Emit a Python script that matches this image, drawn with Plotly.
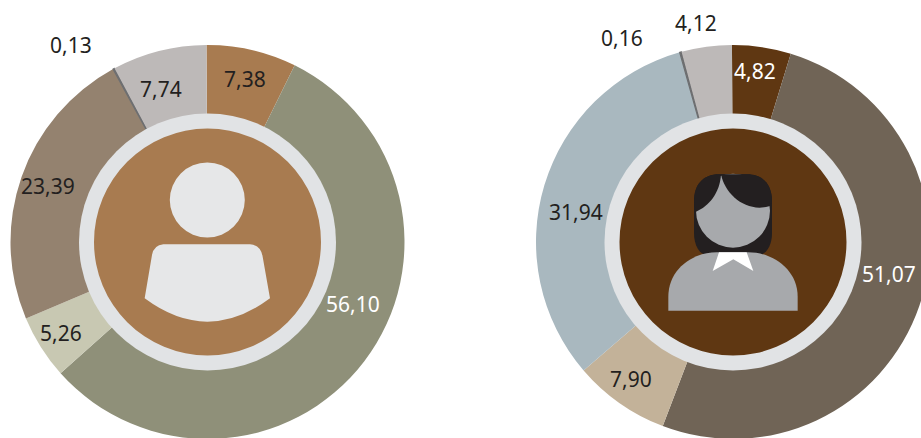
import plotly.graph_objects as go

# --- data ---
male_labels = ["A", "B", "C", "D", "E", "F"]
male_values = [7.38, 56.10, 5.26, 23.39, 0.13, 7.74]
male_text = ["7,38", "56,10", "5,26", "23,39", "0,13", "7,74"]
male_colors = ["#A87B50", "#8F9079", "#C8C8B2", "#94826F", "#6D6E70", "#BDB9B8"]

female_labels = ["A", "B", "C", "D", "E", "F"]
female_values = [4.82, 51.07, 7.90, 31.94, 0.16, 4.12]
female_text = ["4,82", "51,07", "7,90", "31,94", "0,16", "4,12"]
female_colors = ["#5F3712", "#706456", "#C3B299", "#A9B8BF", "#6D6E70", "#BDB9B8"]

# --- layout constants (pixels) ---
W, H = 940, 440
R = 197
CX1, CX2, CY = 207.5, 733, 242
male_pos = [(245, 79), (353, 304), (61, 333), (48, 186), (71, 45), (161, 89)]
male_tc = ["#231F20", "#FFFFFF", "#231F20", "#231F20", "#231F20", "#231F20"]
female_pos = [(755, 71), (889, 274), (631, 379), (576, 212), (622, 38), (696, 23)]
female_tc = ["#FFFFFF", "#FFFFFF", "#231F20", "#231F20", "#231F20", "#231F20"]
slice_line = [0, 0, 0, 0, 1.2, 0]


def px(x):
    return x / W


def py(y):
    return 1 - y / H


def circle(cx, cy, r, color):
    return dict(type="circle", xref="paper", yref="paper", layer="above",
                x0=px(cx - r), x1=px(cx + r), y0=py(cy + r), y1=py(cy - r),
                fillcolor=color, line=dict(width=0))


def path(cmds, ox, oy, color):
    """cmds: list of (letter, coords...) in zoomed (3x) crop coordinates."""
    out = []
    for c in cmds:
        pts = c[1:]
        s = c[0]
        for i in range(0, len(pts), 2):
            s += f" {px(ox + pts[i] / 3):.5f},{py(oy + pts[i + 1] / 3):.5f}"
        out.append(s)
    return dict(type="path", xref="paper", yref="paper", layer="above",
                path=" ".join(out) + " Z", fillcolor=color, line=dict(width=0))


def pie(values, labels, colors, cx):
    return go.Pie(values=values, labels=labels, sort=False, direction="clockwise",
                  rotation=-0.3, hole=0.6, textinfo="none", hoverinfo="none",
                  marker=dict(colors=colors, line=dict(width=slice_line, color=colors)),
                  domain=dict(x=[px(cx - R), px(cx + R)], y=[py(CY + R), py(CY - R)]),
                  showlegend=False)


fig = go.Figure([pie(male_values, male_labels, male_colors, CX1),
                 pie(female_values, female_labels, female_colors, CX2)])

HAIR, FACE, ICON = "#231F20", "#A7A9AC", "#E6E7E8"
shapes = [
    circle(CX1, CY, 128.5, "#E1E3E5"),
    circle(CX1, CY, 113.5, "#A87B50"),
    circle(207.3, 200, 37.5, ICON),
    path([("M", 220, 373), ("L", 480, 373), ("Q", 512, 375, 518, 410), ("L", 540, 535),
          ("Q", 352, 675, 164, 535), ("L", 186, 405), ("Q", 192, 375, 220, 373)], 90, 120, ICON),
    circle(CX2, CY, 128.5, "#E1E3E5"),
    circle(CX2, CY, 113.5, "#5F3712"),
    path([("M", 298, 163), ("L", 380, 163), ("C", 430, 163, 456, 195, 456, 245), ("L", 456, 340),
          ("C", 456, 375, 440, 405, 415, 405), ("L", 262, 405), ("C", 238, 405, 222, 375, 222, 340),
          ("L", 222, 245), ("C", 222, 195, 248, 163, 298, 163)], 620, 120, HAIR),
    circle(620 + 339 / 3, 120 + 272 / 3, 37, FACE),
    path([("M", 303, 163), ("C", 300, 220, 265, 260, 228, 275), ("L", 222, 245),
          ("C", 222, 195, 248, 163, 298, 163)], 620, 120, HAIR),
    path([("M", 303, 163), ("C", 315, 225, 380, 280, 450, 258), ("L", 456, 245),
          ("C", 456, 195, 430, 163, 380, 163)], 620, 120, HAIR),
    path([("M", 145, 572), ("L", 533, 572), ("L", 533, 530), ("C", 533, 450, 460, 397, 385, 397),
          ("L", 290, 397), ("C", 215, 397, 145, 450, 145, 530)], 620, 120, FACE),
    path([("M", 297, 397), ("L", 278, 453), ("L", 340, 418), ("L", 400, 453), ("L", 380, 397)],
         620, 120, "#FFFFFF"),
]

annotations = []
for texts, pos, cols in [(male_text, male_pos, male_tc), (female_text, female_pos, female_tc)]:
    for t, (x, y), c in zip(texts, pos, cols):
        annotations.append(dict(text=t, x=px(x), y=py(y), xref="paper", yref="paper",
                                showarrow=False, xanchor="center", yanchor="middle",
                                font=dict(family="Noto Sans", size=21, color=c)))

fig.update_layout(width=W, height=H, margin=dict(l=0, r=0, t=0, b=0),
                  paper_bgcolor="white", plot_bgcolor="white",
                  shapes=shapes, annotations=annotations)

fig.write_html(
    "out.html",
    config={"displayModeBar": False},
    post_script="document.documentElement.style.overflow='hidden';"
                "document.body.style.overflow='hidden';document.body.style.margin='0';",
)
